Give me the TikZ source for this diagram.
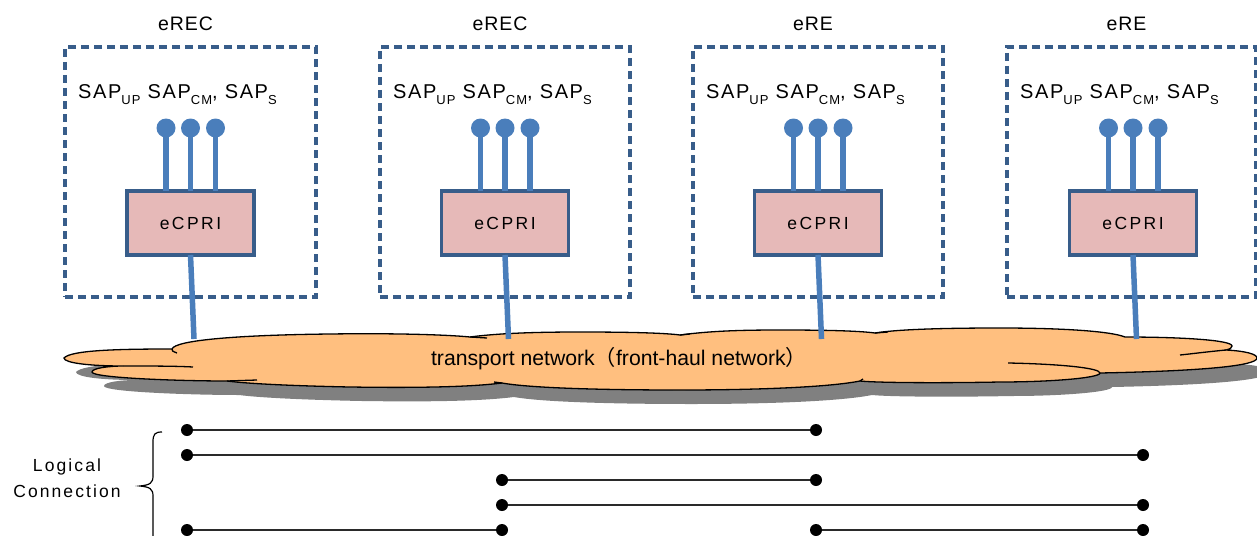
\documentclass[tikz,border=0pt]{standalone}
\usepackage{fontspec}
\setmainfont{Liberation Sans}
\newfontfamily\titlefont[LetterSpace=5]{Liberation Sans}
\newfontfamily\ecfont[LetterSpace=14]{Liberation Sans}
\newfontfamily\lcfont[LetterSpace=12]{Liberation Sans}
\newfontfamily\sapfont[LetterSpace=8]{Liberation Sans}
\newfontfamily\cjkfont{Noto Sans CJK JP}
\definecolor{boxblue}{HTML}{385D8A}
\definecolor{pinblue}{HTML}{4A7EBB}
\definecolor{ecfill}{HTML}{E6B9B8}
\definecolor{cloudfill}{HTML}{FFBF7F}
\definecolor{shadowgray}{HTML}{808080}
\definecolor{lcgray}{HTML}{2A2A2A}
\newcommand\mysub[1]{\raisebox{-6pt}{\fontsize{13}{13}\selectfont #1}}
\newcommand\cloudpath{(64,358)
 .. controls (71,350) and (120,349) .. (172,349)
 .. controls (175,340) and (240,335) .. (330,334)
 .. controls (400,333) and (450,335) .. (470,337)
 .. controls (500,333) and (540,332) .. (580,332)
 .. controls (630,332) and (665,333) .. (680,335)
 .. controls (710,331) and (740,330) .. (780,330)
 .. controls (830,330) and (860,331) .. (875,333)
 .. controls (900,329) and (950,328) .. (1000,328)
 .. controls (1060,328) and (1110,331) .. (1125,337)
 .. controls (1180,337) and (1232,340) .. (1232,346)
 .. controls (1232,348) and (1230,349) .. (1226,350)
 .. controls (1245,351) and (1257,354) .. (1257,358)
 .. controls (1257,366) and (1200,371) .. (1100,373)
 .. controls (1100,378) and (1050,382) .. (1000,382)
 .. controls (950,383) and (880,383) .. (860,381)
 .. controls (830,387) and (760,390) .. (680,390)
 .. controls (600,390) and (530,388) .. (502,383)
 .. controls (470,387) and (420,388) .. (350,387)
 .. controls (300,386) and (250,384) .. (227,381)
 .. controls (180,381) and (92,378) .. (92,372)
 .. controls (92,368) and (110,366) .. (123,366)
 .. controls (90,366) and (64,363) .. (64,358) -- cycle}
\tikzset{
  dashbox/.style={draw=boxblue, line width=3.5pt, dash pattern=on 8pt off 5pt, inner sep=0pt, outer sep=0pt},
  title/.style={font=\titlefont\fontsize{19.5}{22}\selectfont, inner sep=0pt},
  sap/.style={font=\sapfont\fontsize{20}{22}\selectfont, inner sep=0pt},
  ecpri/.style={draw=boxblue, fill=ecfill, line width=3.5pt, minimum width=127pt, minimum height=64pt, inner sep=0pt, outer sep=0pt, font=\ecfont\fontsize{17.5}{20}\selectfont},
  pin/.style={circle, fill=pinblue, minimum size=19pt, inner sep=0pt},
  pinline/.style={draw=pinblue, line width=5.5pt},
  cloudline/.style={draw=black, line width=1.3pt},
  lc/.style={draw=lcgray, line width=2pt},
  ldot/.style={circle, fill=black, minimum size=12pt, inner sep=0pt}
}
\begin{document}
\begin{tikzpicture}[x=1pt, y=-1pt]
\useasboundingbox (0,0) rectangle (1257,535);
\clip (0,0) rectangle (1257,535);
% units
\foreach \i/\bx/\bw/\ex/\t in {1/190.5/251/190.5/eREC, 2/505/250/505/eREC, 3/818/250/818/eRE, 4/1131.5/249/1133/eRE}{
  \node[dashbox, minimum width=\bw pt, minimum height=250pt] (b\i) at (\bx,172) {};
  \node[title] (t\i) at ({\bx-5},24) {\t};
  \node[sap, anchor=base west] (s\i) at ({\bx-\bw/2+13},98) {SAP\mysub{UP} SAP\mysub{CM}, SAP\mysub{S}};
  \node[ecpri] (e\i) at (\ex,223) {eCPRI};
  \node[pin] (p\i a) at ({\ex-24.5},128) {};
  \node[pin] (p\i b) at (\ex,128) {};
  \node[pin] (p\i c) at ({\ex+25},128) {};
  \draw[pinline] (p\i a.center) -- (p\i a.center |- e\i.north);
  \draw[pinline] (p\i b.center) -- (p\i b.center |- e\i.north);
  \draw[pinline] (p\i c.center) -- (p\i c.center |- e\i.north);
  \coordinate (c\i) at ({\ex+3.5},339);
}
% cloud
\fill[shadowgray, shift={(12,14)}] \cloudpath;
\filldraw[fill=cloudfill, cloudline] \cloudpath;
\draw[cloudline] (123,366) .. controls (150,366) and (175,366) .. (193,367);
\draw[cloudline] (227,381) -- (257,380);
\draw[cloudline] (172,349) .. controls (172,351) .. (177,353);
\draw[cloudline] (470,337) .. controls (478,337) .. (487,338);
\draw[cloudline] (502,383) .. controls (498,382) .. (494,382);
\draw[cloudline] (680,335) -- (690,334);
\draw[cloudline] (875,333) -- (888,332);
\draw[cloudline] (860,381) -- (863,379);
\draw[cloudline] (1008,363) .. controls (1060,364) and (1100,368) .. (1100,373);
\draw[cloudline] (1226,350) .. controls (1205,352) and (1190,354) .. (1180,355);
\node[font=\fontsize{21.2}{23}\selectfont, inner sep=0pt] (net) at (619,359) {transport network{\cjkfont （}front-haul network{\cjkfont ）}};
\foreach \i in {1,2,3,4}{
  \draw[pinline] (e\i.south) -- (c\i);
}
% logical connections
\node[font=\lcfont\fontsize{17.5}{26}\selectfont, align=center, inner sep=0pt] (lcl) at (67,478) {Logical\\Connection};
\draw[line width=1.2pt] (162,432) .. controls (155,432) and (153,434) .. (153,442) -- (153,476) .. controls (153,483) and (150,485) .. (140,486) .. controls (150,487) and (153,489) .. (153,496) -- (153,545);
\node[ldot] (l1a) at (187,430) {};
\node[ldot] (l1b) at (816,430) {};
\node[ldot] (l2a) at (187,455) {};
\node[ldot] (l2b) at (1143,455) {};
\node[ldot] (l3a) at (502,480) {};
\node[ldot] (l3b) at (816,480) {};
\node[ldot] (l4a) at (502,505) {};
\node[ldot] (l4b) at (1143,505) {};
\node[ldot] (l5a) at (187,530) {};
\node[ldot] (l5b) at (502,530) {};
\node[ldot] (l5c) at (816,530) {};
\node[ldot] (l5d) at (1143,530) {};
\draw[lc] (l1a) -- (l1b);
\draw[lc] (l2a) -- (l2b);
\draw[lc] (l3a) -- (l3b);
\draw[lc] (l4a) -- (l4b);
\draw[lc] (l5a) -- (l5b);
\draw[lc] (l5c) -- (l5d);
\end{tikzpicture}
\end{document}
